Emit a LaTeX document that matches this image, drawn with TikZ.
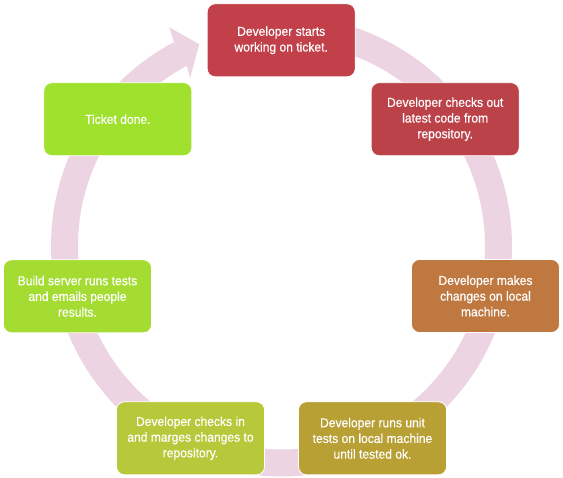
\documentclass[tikz,border=0pt]{standalone}
\usepackage{fontspec}
\setsansfont{Liberation Sans}[FakeStretch=0.93,FakeBold=0.4]
\usetikzlibrary{positioning}
\definecolor{RingPink}{HTML}{ECD4E2}
\definecolor{StartRed}{HTML}{C2404A}
\definecolor{CheckoutRed}{HTML}{BC4249}
\definecolor{ChangeBrown}{HTML}{C07841}
\definecolor{TestOlive}{HTML}{B8A035}
\definecolor{MergeLime}{HTML}{B7C93A}
\definecolor{BuildGreen}{HTML}{A4DC32}
\definecolor{DoneGreen}{HTML}{9FE12C}

\begin{document}
\begin{tikzpicture}[x=1pt,y=-1pt,font=\sffamily\fontsize{13}{15.7}\selectfont,
  stage/.style={draw=white,line width=.8pt,rounded corners=8pt,minimum width=148pt,
    minimum height=73pt,inner sep=0pt,text=white,align=center}]
\useasboundingbox (0,0) rectangle (563,478);
\coordinate (hub) at (281.5,246);
\draw[RingPink,line width=27pt] ([shift={(265:217)}]hub) arc[start angle=265,end angle=602.3,radius=217];
\fill[RingPink] (173.4,40.3)--(169.3,27.3)--(199.3,44.3)--(190,78.3)--(186.9,65.8)--cycle;
\node[stage,fill=StartRed] (start) at (281.2,40.3) {Developer starts\\working on ticket.};
\node[stage,fill=CheckoutRed] (checkout) at (445.2,119.2) {Developer checks out\\latest code from\\repository.};
\node[stage,fill=ChangeBrown] (change) at (485.5,296) {Developer makes\\changes on local\\machine.};
\node[stage,fill=TestOlive] (unittest) at (372.5,438.3) {Developer runs unit\\tests on local machine\\until tested ok.};
\node[stage,fill=MergeLime] (merge) at (190.5,438.3) {Developer checks in\\and marges changes to\\repository.};
\node[stage,fill=BuildGreen] (build) at (77.5,296.3) {Build server runs tests\\and emails people\\results.};
\node[stage,fill=DoneGreen] (done) at (117.8,119.2) {Ticket done.};
\end{tikzpicture}
\end{document}
